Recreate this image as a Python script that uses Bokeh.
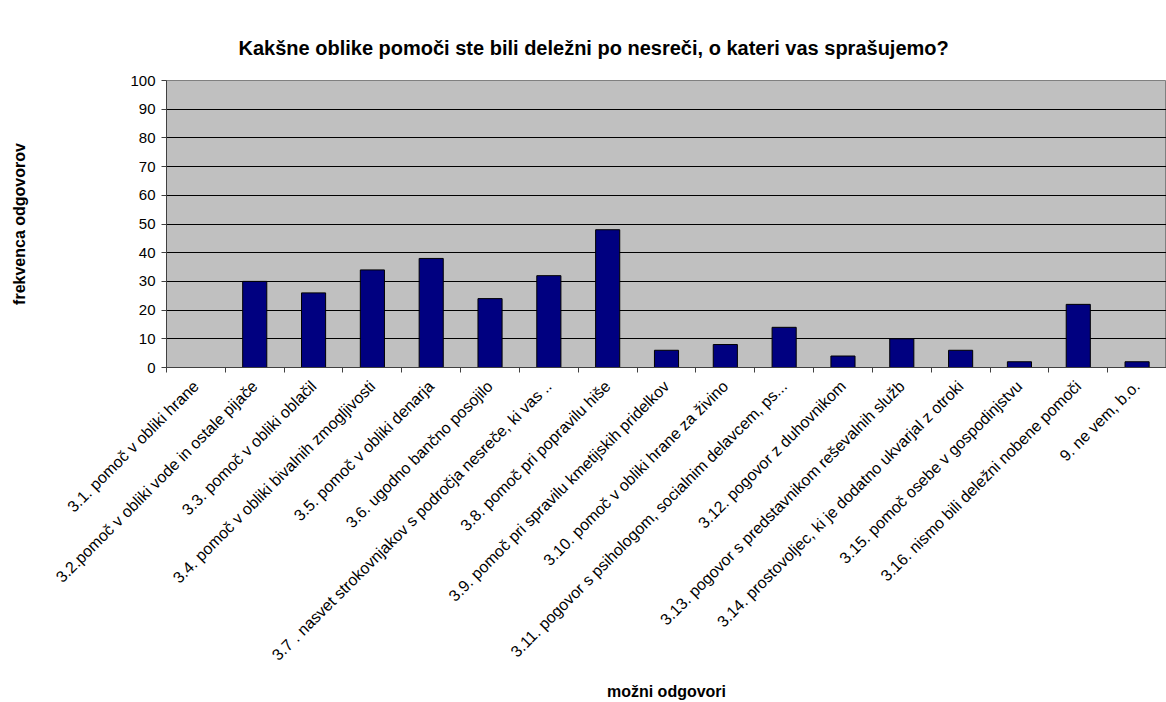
import math
from bokeh.plotting import figure
from bokeh.models import FixedTicker, ColumnDataSource, Range1d
from bokeh.embed import file_html
from bokeh.resources import INLINE

title_text = "Kakšne oblike pomoči ste bili deležni po nesreči, o kateri vas sprašujemo?"
categories = [
    "3.1. pomoč v obliki hrane",
    "3.2.pomoč v obliki vode in ostale pijače",
    "3.3. pomoč v obliki oblačil",
    "3.4. pomoč v obliki bivalnih zmogljivosti",
    "3.5. pomoč v obliki denarja",
    "3.6. ugodno bančno posojilo",
    "3.7 . nasvet strokovnjakov s področja nesreče, ki vas ..",
    "3.8. pomoč pri popravilu hiše",
    "3.9. pomoč pri spravilu kmetijskih pridelkov",
    "3.10. pomoč v obliki hrane za živino",
    "3.11. pogovor s psihologom, socialnim delavcem, ps...",
    "3.12. pogovor z duhovnikom",
    "3.13. pogovor s predstavnikom reševalnih služb",
    "3.14. prostovoljec, ki je dodatno ukvarjal z otroki",
    "3.15. pomoč osebe v gospodinjstvu",
    "3.16. nismo bili deležni nobene pomoči",
    "9. ne vem, b.o.",
]
values = [0, 30, 26, 34, 38, 24, 32, 48, 6, 8, 14, 4, 10, 6, 2, 22, 2]
y_ticks = [0, 10, 20, 30, 40, 50, 60, 70, 80, 90, 100]

n = len(categories)
centers = [i + 0.5 for i in range(n)]
bounds = [float(i) for i in range(n + 1)]

src = ColumnDataSource(dict(x=centers, top=values))

FONT = "Liberation Sans"

p = figure(width=1166, height=702, output_backend="svg", toolbar_location=None,
           x_range=Range1d(0, n), y_range=Range1d(0, 100),
           min_border_left=166, min_border_right=0, min_border_top=80,
           background_fill_color="#C0C0C0", border_fill_color="white",
           title=title_text)

p.title.text_font = FONT
p.title.text_font_size = "20px"
p.title.text_font_style = "bold"
p.title.text_color = "black"
p.title.align = "left"
p.title.offset = 72
p.title.standoff = 44

p.vbar(x="x", top="top", bottom=0, width=0.41, source=src,
       fill_color="#000080", line_color="black", line_width=1)

p.outline_line_color = "#808080"
p.xgrid.visible = False
p.ygrid.ticker = FixedTicker(ticks=y_ticks[1:-1])
p.ygrid.grid_line_color = "black"
p.ygrid.grid_line_width = 1

xa = p.xaxis[0]
xa.ticker = FixedTicker(ticks=centers, minor_ticks=bounds)
xa.major_label_overrides = {c: lab for c, lab in zip(centers, categories)}
xa.major_label_orientation = math.pi / 4
xa.major_tick_line_color = None
xa.minor_tick_line_color = "#404040"
xa.minor_tick_in = 0
xa.minor_tick_out = 5
xa.axis_line_color = "#404040"
xa.major_label_text_font = FONT
xa.major_label_text_font_size = "16px"
xa.major_label_text_color = "black"
xa.major_label_standoff = 10
xa.axis_label = "možni odgovori"
xa.axis_label_text_font = FONT
xa.axis_label_text_font_size = "16px"
xa.axis_label_text_font_style = "bold"
xa.axis_label_text_color = "black"
xa.axis_label_standoff = 10

ya = p.yaxis[0]
ya.ticker = FixedTicker(ticks=y_ticks)
ya.minor_tick_line_color = None
ya.major_tick_in = 0
ya.major_tick_out = 5
ya.axis_line_color = "#404040"
ya.major_tick_line_color = "#404040"
ya.major_label_text_font = FONT
ya.major_label_text_font_size = "15px"
ya.major_label_text_color = "black"
ya.major_label_standoff = 6
ya.axis_label = "frekvenca odgovorov"
ya.axis_label_text_font = FONT
ya.axis_label_text_font_size = "16px"
ya.axis_label_text_font_style = "bold"
ya.axis_label_text_color = "black"
ya.axis_label_standoff = 99

open("out.html", "w").write(file_html(p, INLINE))
